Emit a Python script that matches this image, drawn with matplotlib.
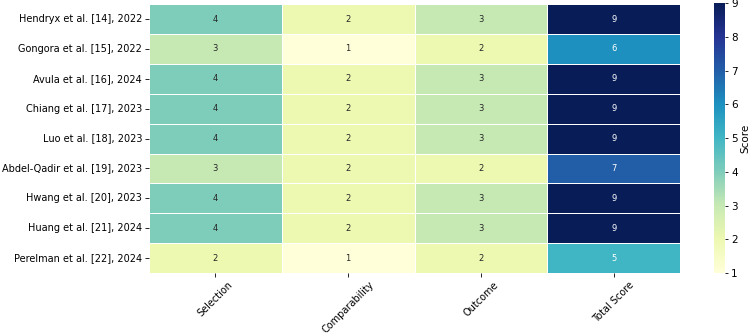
import numpy as np
import pandas as pd
import seaborn as sns
import matplotlib
matplotlib.use('Agg')
import matplotlib.pyplot as plt

studies = ['Hendryx et al. [14], 2022', 'Gongora et al. [15], 2022', 'Avula et al. [16], 2024',
           'Chiang et al. [17], 2023', 'Luo et al. [18], 2023', 'Abdel-Qadir et al. [19], 2023',
           'Hwang et al. [20], 2023', 'Huang et al. [21], 2024', 'Perelman et al. [22], 2024']
columns = ['Selection', 'Comparability', 'Outcome', 'Total Score']
selection = [4, 3, 4, 4, 4, 3, 4, 4, 2]
comparability = [2, 1, 2, 2, 2, 2, 2, 2, 1]
outcome = [3, 2, 3, 3, 3, 2, 3, 3, 2]
total = [9, 6, 9, 9, 9, 7, 9, 9, 5]

df = pd.DataFrame({'Selection': selection, 'Comparability': comparability,
                   'Outcome': outcome, 'Total Score': total}, index=studies)[columns]

fig = plt.figure(figsize=(7.5, 3.34), dpi=100)
ax = fig.add_axes([0.1987, 0.1826, 0.708, 0.805])
cax = fig.add_axes([0.952, 0.1826, 0.0147, 0.808])

sns.heatmap(df, ax=ax, cbar_ax=cax, cmap='YlGnBu', vmin=1, vmax=9, annot=True, fmt='d',
            linewidths=0.7, linecolor='white', annot_kws={'fontsize': 6},
            cbar_kws={'label': 'Score'})

ax.tick_params(axis='y', labelsize=7, rotation=0, length=3, width=0.6, pad=2)
ax.tick_params(axis='x', labelsize=7, length=3, width=0.6, pad=2)
plt.setp(ax.get_xticklabels(), rotation=45, ha='center')
ax.set_xlabel('')
ax.set_ylabel('')
cax.tick_params(labelsize=7.5, length=2.5, width=0.6, pad=2)
cax.yaxis.label.set_size(7.5)
cax.yaxis.labelpad = 2

plt.savefig('out.png', dpi=100)
plt.close()
